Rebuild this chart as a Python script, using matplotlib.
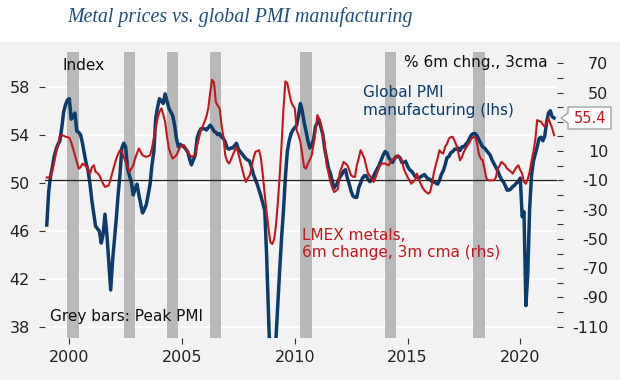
import matplotlib
matplotlib.use('Agg')
import matplotlib.pyplot as plt
import pandas as pd
from matplotlib.patches import Rectangle, Polygon

plt.rcParams['axes.unicode_minus'] = False
plt.rcParams['font.family'] = ['DejaVu Sans']

# Global PMI manufacturing (lhs), monthly from Jan 1999 to Jul 2021
pmi = [
    46.5, 49.3, 50.5, 51.3, 52.2, 52.8, 53.2, 53.5, 54.6, 55.9, 56.5, 56.9,  # 1999
    57.0, 55.3, 55.5, 55.8, 54.3, 54.2, 54.0, 53.3, 52.4, 51.6, 51.0, 49.9,  # 2000
    48.5, 47.4, 46.4, 46.2, 46.0, 45.0, 45.7, 47.4, 45.7, 43.5, 41.1, 43.5,  # 2001
    45.3, 47.1, 49.0, 50.7, 52.9, 53.3, 53.0, 51.2, 50.6, 50.1, 49.0, 49.5,  # 2002
    49.9, 49.0, 48.3, 47.5, 47.8, 48.2, 49.0, 49.9, 51.5, 52.6, 55.4, 56.3,  # 2003
    57.0, 56.8, 56.6, 57.4, 56.8, 56.2, 55.9, 55.6, 54.8, 53.7, 53.0, 53.2,  # 2004
    53.1, 53.0, 52.8, 52.6, 52.0, 51.5, 51.9, 52.3, 53.7, 54.2, 54.5, 54.5,  # 2005
    54.5, 54.4, 54.6, 54.8, 54.6, 54.3, 54.2, 54.0, 54.1, 53.8, 53.7, 53.4,  # 2006
    52.9, 52.8, 52.9, 52.9, 53.1, 53.3, 52.8, 52.6, 52.4, 52.2, 52.0, 51.9,  # 2007
    51.8, 51.3, 50.7, 50.3, 49.9, 49.4, 48.9, 48.3, 47.7, 44.0, 39.0, 34.5,  # 2008
    34.0, 34.6, 37.0, 40.0, 42.8, 45.5, 47.7, 50.5, 52.6, 53.5, 54.1, 54.4,  # 2009
    54.6, 54.8, 55.6, 56.6, 56.0, 55.0, 54.3, 53.5, 52.9, 53.2, 53.6, 54.7,  # 2010
    55.0, 55.2, 54.6, 54.0, 52.8, 52.0, 51.2, 50.8, 50.1, 49.6, 49.8, 50.1,  # 2011
    50.5, 50.7, 51.0, 51.1, 50.4, 49.9, 49.3, 48.9, 48.8, 48.8, 49.6, 50.0,  # 2012
    50.4, 50.6, 50.6, 50.3, 50.1, 50.3, 50.6, 50.9, 51.2, 51.5, 51.9, 52.3,  # 2013
    52.6, 52.5, 52.1, 51.9, 51.7, 52.0, 52.2, 52.2, 52.1, 51.7, 51.7, 51.8,  # 2014
    51.4, 51.1, 51.0, 50.8, 50.55, 50.5, 50.4, 50.5, 50.6, 50.7, 50.5, 50.3,  # 2015
    50.3, 50.1, 50.1, 50.0, 49.9, 50.2, 50.7, 51.0, 51.5, 52.1, 52.2, 52.5,  # 2016
    52.6, 52.8, 52.8, 52.9, 52.7, 53.0, 53.0, 53.2, 53.4, 53.7, 54.0, 54.1,  # 2017
    54.1, 53.9, 53.6, 53.3, 53.0, 52.9, 52.7, 52.5, 52.3, 51.9, 51.6, 51.3,  # 2018
    51.0, 50.6, 50.3, 50.1, 49.8, 49.4, 49.4, 49.5, 49.7, 49.8, 50.0, 50.1,  # 2019
    50.4, 47.2, 47.6, 39.8, 42.4, 47.9, 50.6, 51.8, 52.4, 53.0, 53.7, 53.8,  # 2020
    53.5, 53.9, 55.0, 55.8, 56.0, 55.5, 55.4,                                # 2021
]

# LMEX metals, 6m change, 3m cma (rhs)
lmex = [
    -8, -8, -7.7, -3, 2.6, 9, 14, 20.5, 20.9, 20.5, 19.8, 19.5,  # 1999
    19.1, 16, 11.8, 7, 2.6, -2, -1, 1.5, 0.3, 0.3, -3, -5.4,  # 2000
    -1, 0.3, -4.2, -5, -6.6, -9.5, -12.3, -14.5, -14, -13.4, -9, -4.2,  # 2001
    0.5, 4.9, 8, 10.6, 9.5, 6, 2.6, -1, -4.2, -2, 0.3, 4.9,  # 2002
    8.5, 11.8, 9.5, 7.2, 6.5, 6.1, 6.5, 7.2, 12, 18.6, 26, 32.4,  # 2003
    37, 39.2, 35, 30.1, 20, 11.8, 8, 4.9, 6, 7.2, 10, 13,  # 2004
    13.5, 14, 12, 9.5, 7.5, 6.1, 6.5, 7.2, 14, 19, 24.3, 27,  # 2005
    30.1, 34, 39.2, 50, 58.7, 57, 43.8, 41, 39.2, 28, 19.8, 7.2,  # 2006
    3, 1.5, 4, 7.2, 10, 13, 8.3, 3, -2, -7, -11.1, -8.5,  # 2007
    -6.6, -1, 4.9, 9.5, 10, 10.6, 5, -6.6, -20, -31.7, -43, -52.3,  # 2008
    -53.5, -50, -40.9, -25, -6.6, 15, 39.2, 57.6, 56.4, 50, 43.8, 41,  # 2009
    39.2, 24, 20.9, 16.4, 8, -1, -2, 1.5, 4, 7.2, 15, 23.2,  # 2010
    34.6, 32, 27.8, 20, 14, 0.3, -5, -11.1, -15, -18, -17, -15.7,  # 2011
    -4.2, -1, 2.6, 1.5, 0.3, -3, -6.6, -7.5, -7.7, 0.3, 5, 10.6,  # 2012
    8, 4.9, 0, -5.4, -7, -8.8, -11.1, -8, -4.2, -1, 1.5, 1.5,  # 2013
    1.5, 0.8, 0.3, 2.6, 4, 4.9, 6, 7.2, 5, 3.7, -2, -5,  # 2014
    -7.7, -10, -12.3, -11, -10, -5.4, -9, -12.3, -15, -16.9, -18, -19.1,  # 2015
    -18, -12.3, -5, 0.3, 5, 10.6, 9, 8.3, 13, 15, 18.6, 19.5,  # 2016
    19.8, 17, 14, 9, 3.7, 6, 9.5, 12, 14, 16, 18.6, 19.5,  # 2017
    19.8, 15, 8, 4.9, 3.7, -2, -8.8, -10, -10, -10, -10, -8,  # 2018
    -2, 0, 2.6, 1.5, 0.3, -2, -3, -4, -5.4, -3, -1, 0.3,  # 2019
    -3, -5.4, -11.1, -12.3, -9, -4.2, 3, 9.5, 18, 31.2, 30.5, 30.1,  # 2020
    28, 26.7, 29, 32.4, 29, 25.5, 20.9,  # 2021
]

dates = pd.date_range('1999-01-01', periods=len(pmi), freq='MS')

# Пики PMI (серые полосы), начало и конец
peak_start = ['1999-12-01', '2002-06-01', '2004-05-01', '2006-04-01',
              '2010-04-01', '2014-01-01', '2017-12-01']
peak_end = ['2000-06-01', '2002-12-01', '2004-11-01', '2006-10-01',
            '2010-10-01', '2014-07-01', '2018-06-01']

left_ticks = [38, 42, 46, 50, 54, 58]
right_ticks = [-110, -90, -70, -50, -30, -10, 10, 30, 50, 70]
right_labels = ['-110', '-90', '-70', '-50', '-30', '-10', '10', '', '50', '70']  # 30 скрыт выноской
right_minor = [-100, -80, -60, -40, -20, 0, 20, 40, 60]
year_ticks = ['2000', '2005', '2010', '2015', '2020']
last_label = '55.4'

W, H = 620, 380
blue = '#0b3c6b'
red = '#c4161c'
bg = '#f2f2f2'


def fx(x):
    return x / W


def fy(y):
    return 1 - y / H


fig = plt.figure(figsize=(W / 100, H / 100), dpi=100, facecolor=bg)
fig.add_artist(Rectangle((0, fy(42)), 1, 42 / H, transform=fig.transFigure,
                         facecolor='white', edgecolor='none', zorder=-1))

ax = fig.add_axes([fx(45), fy(338), fx(557 - 45), (338 - 52) / H])
ax.set_facecolor(bg)
for s in ax.spines.values():
    s.set_visible(False)

for a, b in zip(peak_start, peak_end):
    ax.axvspan(pd.Timestamp(a), pd.Timestamp(b), color='#b8b8b8', lw=0, zorder=1)

for t in left_ticks:
    ax.axhline(t, color='white', lw=1.4, zorder=0.5)

ax.plot(dates, pmi, color=blue, lw=2.5, zorder=3, solid_joinstyle='round')
ax.set_ylim(37.11, 60.88)
ax.set_xlim(pd.Timestamp('1998-12-03'), pd.Timestamp('2021-08-18'))
ax.set_yticks(left_ticks)
ax.set_xticks([pd.Timestamp(y + '-01-01') for y in year_ticks])
ax.set_xticklabels(year_ticks)
ax.tick_params(axis='y', length=4, width=0.8, color='#333', pad=7,
               labelsize=11.5, labelcolor='#222')
ax.tick_params(axis='x', length=4, width=0.8, color='#333', pad=5,
               labelsize=11.5, labelcolor='#222')

ax2 = ax.twinx()
for s in ax2.spines.values():
    s.set_visible(False)
ax2.axhline(-10, color='#222', lw=0.9, zorder=2)
ax2.plot(dates, lmex, color=red, lw=1.5, zorder=4)
ax2.set_ylim(-117.7, 77.7)
ax2.set_yticks(right_ticks)
ax2.set_yticklabels(right_labels)
ax2.set_yticks(right_minor, minor=True)
ax2.tick_params(axis='y', which='both', length=4, width=0.8, color='#333',
                pad=33, labelsize=11.5, labelcolor='#222')
for lab in ax2.get_yticklabels():
    lab.set_horizontalalignment('right')

# Подписи
fig.text(fx(240), fy(17), 'Metal prices vs. global PMI manufacturing',
         ha='center', va='center', fontsize=14.3, style='italic',
         family='Liberation Serif', color='#1f4e79')
fig.text(fx(62), fy(65), 'Index', ha='left', va='center', fontsize=11, color='#111')
fig.text(fx(548), fy(62), '% 6m chng., 3cma', ha='right', va='center',
         fontsize=11, color='#111')
fig.text(fx(363), fy(101.5), 'Global PMI\nmanufacturing (lhs)', ha='left',
         va='center', fontsize=11, color=blue, linespacing=1.25)
fig.text(fx(302), fy(244), 'LMEX metals,\n6m change, 3m cma (rhs)', ha='left',
         va='center', fontsize=11, color=red, linespacing=1.2)
fig.text(fx(50), fy(317), 'Grey bars: Peak PMI', ha='left', va='center',
         fontsize=11, color='#111')

# Выноска с последним значением
pts = [(561, 118), (568, 113), (568, 107), (611, 107), (611, 129), (568, 129), (568, 123)]
fig.add_artist(Polygon([(fx(x), fy(y)) for x, y in pts], closed=True,
                       transform=fig.transFigure, facecolor='white',
                       edgecolor='#9a9a9a', lw=0.9, zorder=5))
fig.text(fx(590), fy(118), last_label, ha='center', va='center', fontsize=10.5,
         color=red, zorder=6)

fig.savefig('out.png', dpi=100, facecolor=bg)
